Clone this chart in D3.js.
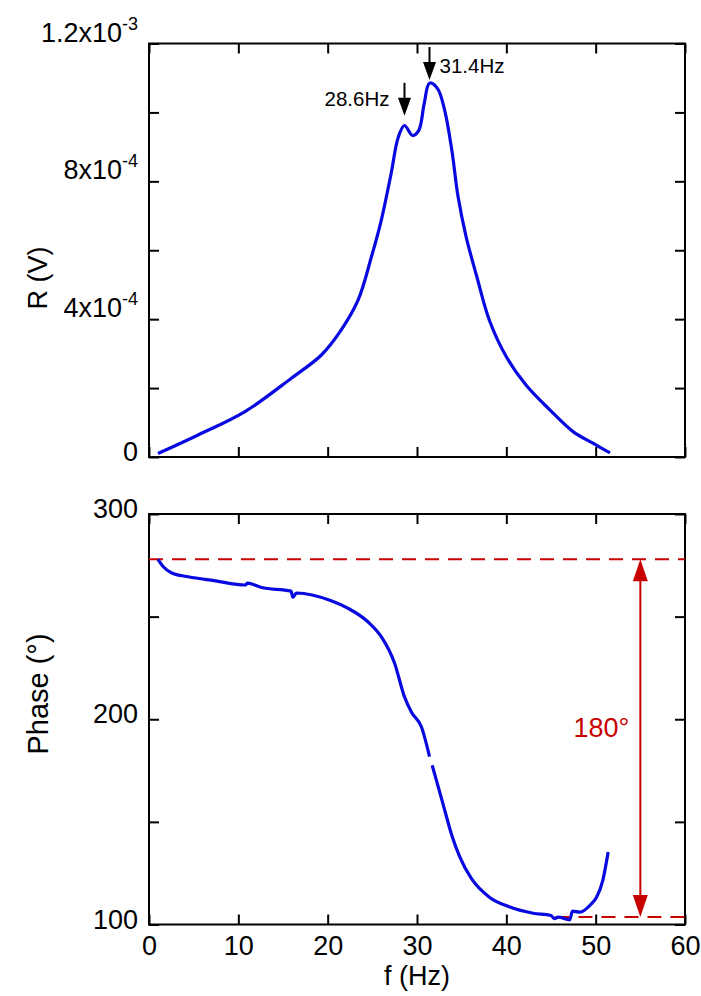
<!DOCTYPE html>
<html>
<head>
<meta charset="utf-8">
<script src="https://cdn.jsdelivr.net/npm/d3@7"></script>
<style>
  body { margin: 0; background: #fff; }
  svg text { font-family: "Liberation Sans", Arial, sans-serif; }
</style>
</head>
<body>
<div id="chart"></div>
<script>
// amplitude R (V) vs frequency
var rFreq = [1.0, 5.5, 10.7, 15.9, 19.3, 21.5, 23.4, 24.9, 26.0, 27.1, 27.9, 28.6, 29.5, 30.2, 30.8, 31.4, 32.3, 33.1, 33.9, 34.6, 35.5, 36.7, 38.1, 40.0, 42.2, 44.9, 47.5, 49.7, 51.6];
var rVolt = [0.10e-4, 0.64e-4, 1.31e-4, 2.28e-4, 2.96e-4, 3.68e-4, 4.55e-4, 5.81e-4, 6.87e-4, 8.22e-4, 9.28e-4, 9.62e-4, 9.33e-4, 9.48e-4, 10.25e-4, 10.85e-4, 10.69e-4, 10.06e-4, 8.90e-4, 7.55e-4, 6.39e-4, 5.23e-4, 3.97e-4, 2.91e-4, 2.09e-4, 1.36e-4, 0.73e-4, 0.40e-4, 0.12e-4];

// phase (deg) vs frequency; null marks the break in the trace
var phFreq = [1.0, 1.6, 2.5, 4.4, 7.3, 10.8, 11.0, 12.6, 15.9, 16.1, 16.5, 20.4, 22.3, 24.5, 26.0, 27.5, 28.6, 29.4, 30.5, 31.4, 31.55, 31.7, 32.9, 33.9, 34.8, 36.1, 38.1, 40.4, 43.0, 45.0, 45.4, 45.8, 47.1, 47.4, 48.2, 49.5, 50.1, 50.8, 51.4];
var phDeg = [277.9, 274.3, 271.4, 269.4, 267.5, 265.4, 266.3, 264.2, 262.4, 259.4, 261.5, 257.7, 254.0, 247.5, 240.2, 227.2, 210.9, 203.3, 196.2, 181.8, null, 177.6, 158.9, 143.4, 132.8, 122.3, 113.3, 108.5, 105.5, 104.4, 102.8, 103.6, 102.3, 106.5, 106.0, 110.0, 113.3, 121.5, 135.3];

// axes
var xTicks = [0, 10, 20, 30, 40, 50, 60];
var rTicks = [0, 2e-4, 4e-4, 6e-4, 8e-4, 10e-4, 12e-4];
var rLabelVals = [0, 4e-4, 8e-4, 12e-4];
var rLabelBase = ["0", "4x10", "8x10", "1.2x10"];
var rLabelExp = ["", "-4", "-4", "-3"];
var phTicks = [100, 150, 200, 250, 300];
var phLabelVals = [100, 200, 300];

// annotations
var peakFreq = [28.6, 31.4];
var peakText = ["28.6Hz", "31.4Hz"];
var peakTipR = [9.9e-4, 10.94e-4];
var refHigh = 278, refLow = 103.6, refLowStart = 45.5, refArrowF = 55;

var W = 701, H = 996;
var left = 149, right = 685;
var svg = d3.select("#chart").append("svg").attr("width", W).attr("height", H);

var x = d3.scaleLinear().domain([0, 60]).range([left, right]);
var yR = d3.scaleLinear().domain([0, 12e-4]).range([457, 43.5]);
var yP = d3.scaleLinear().domain([100, 300]).range([924.5, 514]);

var blue = "#0808e0", red = "#c80000";
var tickLen = 10, fs = 27;

function frame(y) {
  var y0 = y.range()[1], y1 = y.range()[0];
  svg.append("rect").attr("x", left).attr("y", y0)
    .attr("width", right - left).attr("height", y1 - y0)
    .attr("fill", "none").attr("stroke", "#000").attr("stroke-width", 2);
}

function ticks(y, yvals, showX) {
  var y0 = y.range()[1], y1 = y.range()[0];
  var gb = svg.append("g").attr("transform", "translate(0," + y1 + ")")
    .call(d3.axisBottom(x).tickValues(xTicks).tickSize(-tickLen).tickPadding(11)
      .tickFormat(showX ? d3.format("d") : ""));
  var gt = svg.append("g").attr("transform", "translate(0," + y0 + ")")
    .call(d3.axisTop(x).tickValues(xTicks).tickSize(-tickLen).tickFormat(""));
  var gl = svg.append("g").attr("transform", "translate(" + left + ",0)")
    .call(d3.axisLeft(y).tickValues(yvals).tickSize(-tickLen).tickFormat(""));
  var gr = svg.append("g").attr("transform", "translate(" + right + ",0)")
    .call(d3.axisRight(y).tickValues(yvals).tickSize(-tickLen).tickFormat(""));
  [gb, gt, gl, gr].forEach(function(g) {
    g.select(".domain").remove();
    g.selectAll(".tick line").attr("stroke", "#000").attr("stroke-width", 2);
    g.selectAll(".tick text").attr("font-size", fs).attr("fill", "#000")
      .attr("font-family", "'Liberation Sans', Arial, sans-serif");
  });
}

// ---- top panel: R
frame(yR);
ticks(yR, rTicks, false);

var rLab = svg.append("g").selectAll("text").data(rLabelVals).enter().append("text")
  .attr("x", left - 11)
  .attr("y", function(d, i) { return yR(d) + (rLabelExp[i] ? -2 : 4); })
  .attr("text-anchor", "end").attr("font-size", fs);
rLab.append("tspan").text(function(d, i) { return rLabelBase[i]; });
rLab.append("tspan").attr("font-size", 18).attr("dy", -12)
  .text(function(d, i) { return rLabelExp[i]; });

svg.append("text").attr("transform", "translate(47,278) rotate(-90)")
  .attr("text-anchor", "middle").attr("font-size", fs).text("R (V)");

var rLine = d3.line().x(function(d, i) { return x(rFreq[i]); })
  .y(function(d) { return yR(d); }).curve(d3.curveCatmullRom.alpha(0.5));
svg.append("path").attr("d", rLine(rVolt)).attr("fill", "none")
  .attr("stroke", blue).attr("stroke-width", 3.2).attr("stroke-linejoin", "round");

// peak markers
peakFreq.forEach(function(f, i) {
  var ax = x(f), tip = yR(peakTipR[i]);
  svg.append("line").attr("x1", ax).attr("x2", ax).attr("y1", tip - 33).attr("y2", tip - 10)
    .attr("stroke", "#000").attr("stroke-width", 2);
  svg.append("path").attr("d", "M" + (ax - 6.5) + "," + (tip - 18) + "L" + (ax + 6.5) + "," + (tip - 18) + "L" + ax + "," + tip + "Z")
    .attr("fill", "#000");
  var t = svg.append("text").attr("font-size", 20.5).text(peakText[i]);
  if (i === 0) t.attr("x", ax - 15).attr("y", tip - 10).attr("text-anchor", "end");
  else t.attr("x", ax + 10).attr("y", tip - 7);
});

// ---- bottom panel: phase
frame(yP);
ticks(yP, phTicks, true);

svg.append("g").selectAll("text").data(phLabelVals).enter().append("text")
  .attr("x", left - 11).attr("y", function(d) { return yP(d) + 4; })
  .attr("text-anchor", "end").attr("font-size", fs).text(function(d) { return d; });

svg.append("text").attr("transform", "translate(48,694) rotate(-90)")
  .attr("text-anchor", "middle").attr("font-size", 29).text("Phase (°)");
svg.append("text").attr("x", (left + right) / 2).attr("y", 985)
  .attr("text-anchor", "middle").attr("font-size", fs).text("f (Hz)");

// reference lines
svg.append("line").attr("x1", x(0)).attr("x2", x(60)).attr("y1", yP(refHigh)).attr("y2", yP(refHigh))
  .attr("stroke", red).attr("stroke-width", 2).attr("stroke-dasharray", "14,9");
svg.append("line").attr("x1", x(refLowStart)).attr("x2", x(60)).attr("y1", yP(refLow)).attr("y2", yP(refLow))
  .attr("stroke", red).attr("stroke-width", 2).attr("stroke-dasharray", "14,9");

var phLine = d3.line().defined(function(d) { return d != null; })
  .x(function(d, i) { return x(phFreq[i]); })
  .y(function(d) { return yP(d); }).curve(d3.curveMonotoneX);
svg.append("path").attr("d", phLine(phDeg)).attr("fill", "none")
  .attr("stroke", blue).attr("stroke-width", 3.2).attr("stroke-linejoin", "round");

// 180 degree double arrow
var axR = x(refArrowF), yTop = yP(refHigh), yBot = yP(refLow);
svg.append("line").attr("x1", axR).attr("x2", axR).attr("y1", yTop + 15).attr("y2", yBot - 15)
  .attr("stroke", red).attr("stroke-width", 2);
svg.append("path").attr("d", "M" + axR + "," + yTop + "L" + (axR + 7.5) + "," + (yTop + 22) + "L" + (axR - 7.5) + "," + (yTop + 22) + "Z")
  .attr("fill", red);
svg.append("path").attr("d", "M" + axR + "," + yBot + "L" + (axR + 7.5) + "," + (yBot - 22) + "L" + (axR - 7.5) + "," + (yBot - 22) + "Z")
  .attr("fill", red);
svg.append("text").attr("x", axR - 11).attr("y", yP(191.5)).attr("text-anchor", "end")
  .attr("font-size", 27).attr("fill", red).text("180°");
</script>
</body>
</html>
